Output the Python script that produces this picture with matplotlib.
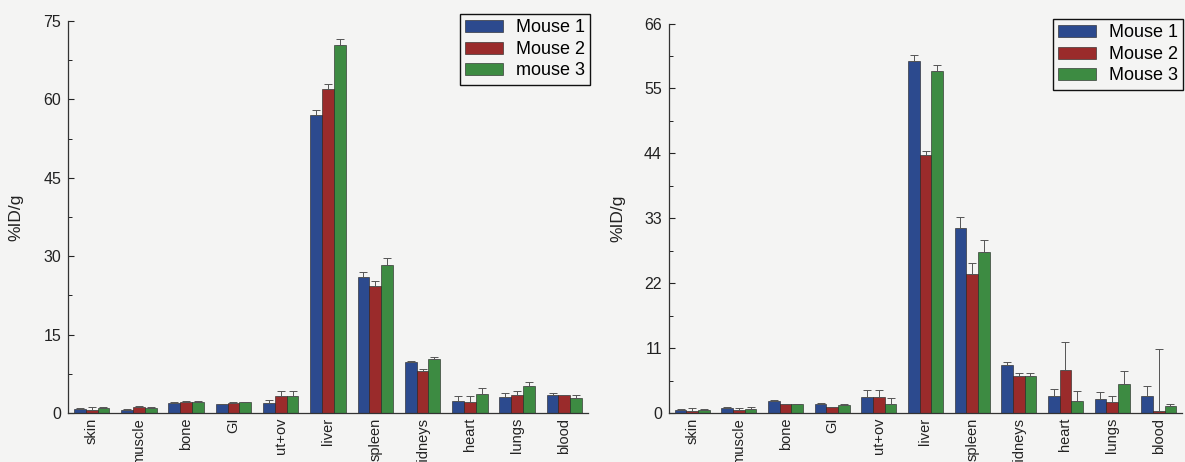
import numpy as np
import matplotlib
matplotlib.use("Agg")
import matplotlib.pyplot as plt
from matplotlib.ticker import MultipleLocator, AutoMinorLocator

plt.rcParams['font.family'] = ['Liberation Sans', 'DejaVu Sans']

organs = ['skin', 'muscle', 'bone', 'GI', 'ut+ov', 'liver', 'spleen',
          'kidneys', 'heart', 'lungs', 'blood']

# left panel
left_m1 = [0.8, 0.6, 2.0, 1.7, 2.0, 57.1, 26.0, 9.7, 2.3, 3.1, 3.4]
left_m1_err = [0.1, 0.1, 0.1, 0.1, 0.4, 0.8, 1.0, 0.2, 0.9, 0.7, 0.5]
left_m2 = [0.6, 1.1, 2.2, 2.0, 3.2, 62.0, 24.3, 8.0, 2.2, 3.5, 3.4]
left_m2_err = [0.5, 0.2, 0.1, 0.1, 1.1, 0.9, 1.0, 0.4, 1.0, 0.7, 0.1]
left_m3 = [1.0, 1.0, 2.2, 2.1, 3.2, 70.5, 28.4, 10.4, 3.6, 5.1, 2.9]
left_m3_err = [0.1, 0.1, 0.1, 0.1, 1.0, 1.0, 1.3, 0.4, 1.2, 0.9, 0.5]
left_labels = ['Mouse 1', 'Mouse 2', 'mouse 3']

# right panel
right_m1 = [0.5, 0.8, 2.1, 1.6, 2.7, 59.6, 31.4, 8.2, 2.8, 2.4, 2.9]
right_m1_err = [0.1, 0.2, 0.1, 0.1, 1.2, 1.0, 1.8, 0.4, 1.3, 1.1, 1.7]
right_m2 = [0.4, 0.5, 1.5, 1.0, 2.7, 43.7, 23.6, 6.2, 7.3, 1.9, 0.4]
right_m2_err = [0.4, 0.3, 0.1, 0.1, 1.2, 0.7, 1.8, 0.5, 4.8, 1.0, 10.5]
right_m3 = [0.5, 0.7, 1.5, 1.4, 1.6, 58.0, 27.2, 6.2, 2.1, 4.9, 1.2]
right_m3_err = [0.1, 0.3, 0.1, 0.1, 0.9, 0.9, 2.1, 0.5, 1.7, 2.2, 0.4]
right_labels = ['Mouse 1', 'Mouse 2', 'Mouse 3']

colors = ['#2c4a8e', '#9a2b2b', '#3d8b42']
bg = '#f4f4f3'

fig = plt.figure(figsize=(11.85, 4.62), dpi=100, facecolor=bg)
ax1 = fig.add_axes([68/1185, 1-413/462, 520/1185, 392/462])
ax2 = fig.add_axes([669/1185, 1-413/462, 513/1185, 389.5/462])


def draw(ax, series, errs, labels, ymax, step, legend_anchor):
    ax.set_facecolor(bg)
    x = np.arange(1, len(organs) + 1)
    w = 0.25
    for k, (vals, err) in enumerate(zip(series, errs)):
        xs = x + (k - 1) * w
        ax.bar(xs, vals, w, color=colors[k], edgecolor='#1e1e1e',
               linewidth=0.4, label=labels[k], zorder=2)
        ax.errorbar(xs, vals, yerr=[np.zeros(len(vals)), err], fmt='none',
                    ecolor='#555555', elinewidth=0.7, capsize=3,
                    capthick=0.7, zorder=3)
    ax.set_xlim(0.5, len(organs) + 0.5)
    ax.set_ylim(0, ymax)
    ax.set_xticks(x)
    ax.set_xticklabels(organs, rotation=90, fontsize=10.5)
    ax.yaxis.set_major_locator(MultipleLocator(step))
    ax.yaxis.set_minor_locator(AutoMinorLocator(2))
    ax.tick_params(axis='y', which='major', direction='in', length=4,
                   width=0.8, labelsize=11.5, pad=5, colors='#222222')
    ax.tick_params(axis='y', which='minor', direction='in', length=3,
                   width=0.6)
    ax.tick_params(axis='x', length=0, pad=3.5, colors='#222222')
    for s in ['top', 'right']:
        ax.spines[s].set_visible(False)
    for s in ['left', 'bottom']:
        ax.spines[s].set_color('#333333')
        ax.spines[s].set_linewidth(0.9)
    ax.set_ylabel('%ID/g', fontsize=12.5, color='#222222')
    leg = ax.legend(loc='upper right', bbox_to_anchor=legend_anchor,
                    bbox_transform=fig.transFigure, fontsize=13,
                    frameon=True, fancybox=False, edgecolor='#111111',
                    facecolor=bg, framealpha=1, handlelength=2.1,
                    handleheight=0.65, handletextpad=0.7,
                    labelspacing=0.25, borderpad=0.3, borderaxespad=0)
    leg.get_frame().set_linewidth(1.0)


draw(ax1, [left_m1, left_m2, left_m3], [left_m1_err, left_m2_err, left_m3_err],
     left_labels, 75, 15, (590/1185, 1-14/462))
ax1.yaxis.set_label_coords(-0.085, 0.5)

draw(ax2, [right_m1, right_m2, right_m3],
     [right_m1_err, right_m2_err, right_m3_err],
     right_labels, 66, 11, (1183/1185, 1-19/462))
ax2.yaxis.set_label_coords(-0.086, 0.5)

fig.savefig('out.png', dpi=100, facecolor=bg)
